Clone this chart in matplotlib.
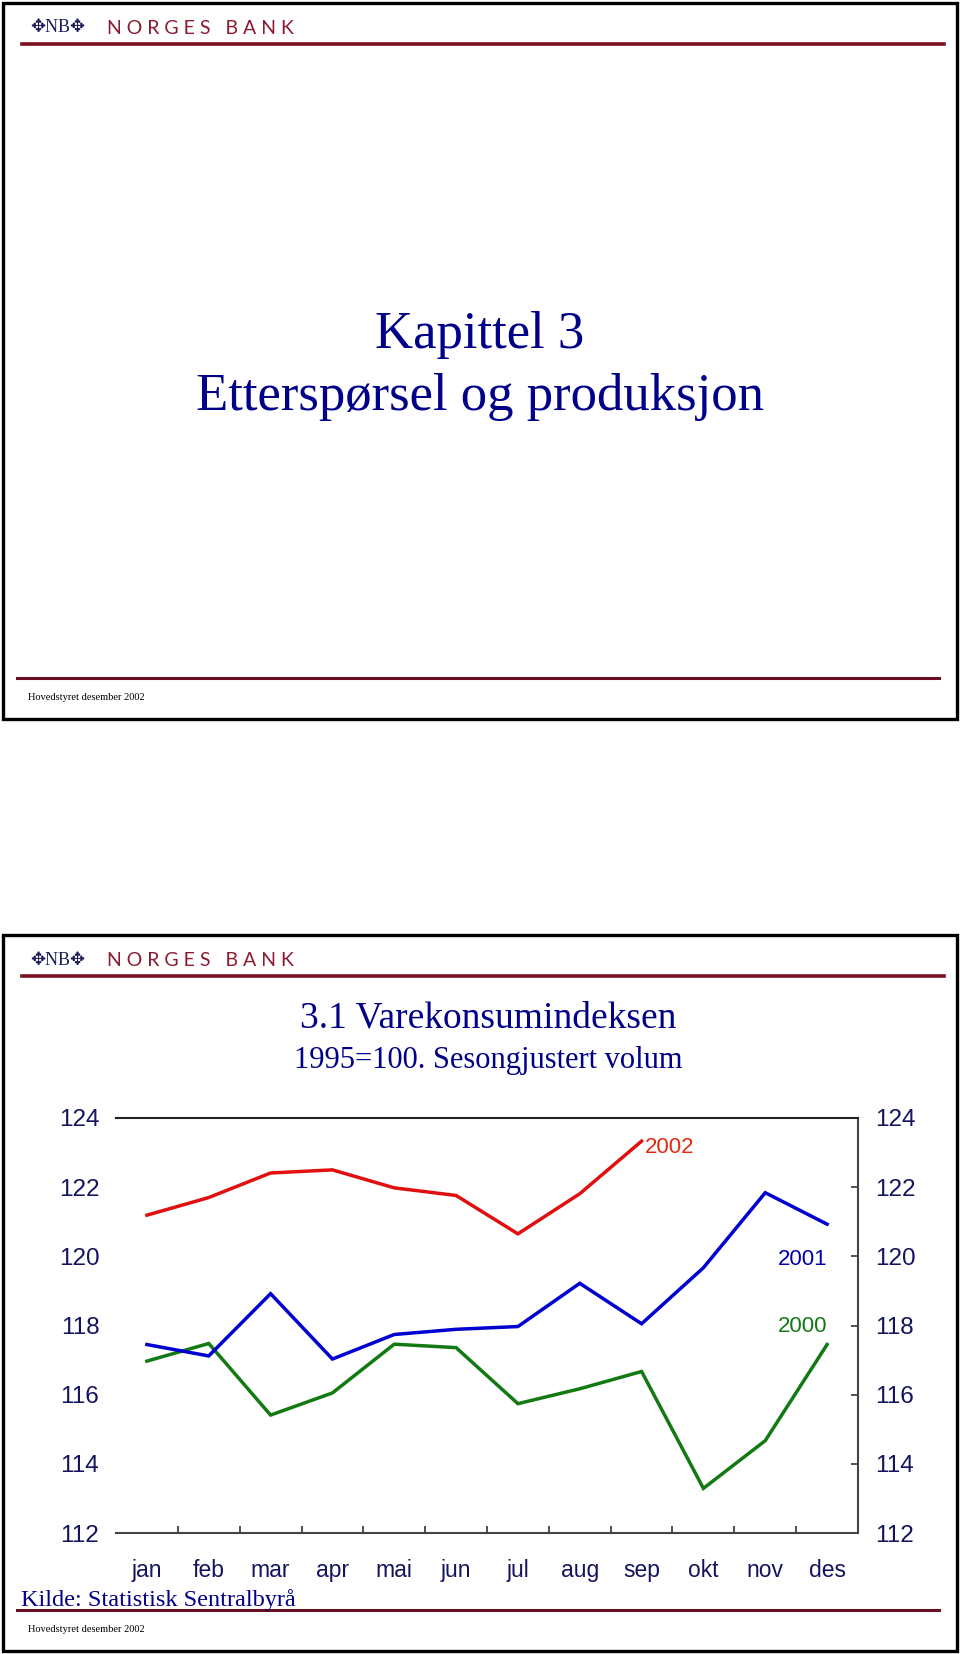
import matplotlib
matplotlib.use("Agg")
import matplotlib.pyplot as plt
from matplotlib.patches import Rectangle
from matplotlib.lines import Line2D
from matplotlib.ticker import FixedLocator

# --- data ---
months = ["jan", "feb", "mar", "apr", "mai", "jun",
          "jul", "aug", "sep", "okt", "nov", "des"]
v2000 = [116.97, 117.48, 115.41, 116.05, 117.46, 117.36,
         115.74, 116.17, 116.67, 113.29, 114.67, 117.45]
v2001 = [117.45, 117.12, 118.92, 117.03, 117.74, 117.89,
         117.97, 119.22, 118.05, 119.67, 121.84, 120.93]
v2002 = [121.19, 121.70, 122.41, 122.50, 121.98, 121.76,
         120.65, 121.81, 123.33]
yticks = [112, 114, 116, 118, 120, 122, 124]

W, H = 960, 1654
NAVY = "#000088"
DARKNAVY = "#14145e"
BANKRED = "#8a1a30"
SERIF = "Liberation Serif"
SANS = "Liberation Sans"

def fx(x): return x / W
def fy(y): return 1 - y / H

fig = plt.figure(figsize=(W / 100, H / 100), dpi=100)
fig.patch.set_facecolor("white")

def panel(top, bottom):
    # slide frame
    fig.add_artist(Rectangle((fx(3), fy(bottom)), fx(954), (bottom - top) / H,
                             transform=fig.transFigure, fill=False,
                             ec="black", lw=2.4))
    # logo + header rule
    fig.text(fx(30), fy(top + 25), "✥NB✥", family=[SERIF, "DejaVu Sans"],
             color="#1c1c5a", fontsize=13, va="center", ha="left")
    fig.text(fx(107), fy(top + 25), "N O R G E S   B A N K", family="Lato",
             color=BANKRED, fontsize=14, va="center", ha="left")
    fig.add_artist(Line2D([fx(22), fx(944)], [fy(top + 41)] * 2,
                          transform=fig.transFigure, color="#7a1020", lw=2.6))

def footer(line_y):
    fig.add_artist(Line2D([fx(17), fx(939)], [fy(line_y)] * 2,
                          transform=fig.transFigure, color="#6a1020", lw=2.2))
    fig.text(fx(28), fy(line_y + 19), "Hovedstyret desember 2002", family=SERIF,
             color="black", fontsize=7.5, va="center", ha="left")

# ---- top slide ----
panel(3, 719)
fig.text(fx(480), fy(348), "Kapittel 3", family=SERIF, color=NAVY,
         fontsize=38, ha="center", va="baseline")
fig.text(fx(480), fy(410), "Etterspørsel og produksjon", family=SERIF,
         color=NAVY, fontsize=38, ha="center", va="baseline")
footer(678)

# ---- bottom slide ----
panel(935, 1651)
fig.text(fx(488), fy(1027), "3.1 Varekonsumindeksen", family=SERIF,
         color=NAVY, fontsize=27, ha="center", va="baseline")
fig.text(fx(488), fy(1068), "1995=100. Sesongjustert volum", family=SERIF,
         color=NAVY, fontsize=22, ha="center", va="baseline")

ax = fig.add_axes([fx(116), fy(1533), (858 - 116) / W, (1533 - 1118) / H])
x = list(range(len(months)))
ax.plot(x, v2000, color="#137a13", lw=2.5, solid_joinstyle="miter")
ax.plot(x, v2001, color="#0000d0", lw=2.5, solid_joinstyle="miter")
ax.plot(x[:len(v2002)], v2002, color="#e01010", lw=2.5, solid_joinstyle="miter")

ax.text(8.05, 123.15, "2002", color="#e02a10", family=SANS, fontsize=16,
        ha="left", va="center")
ax.text(11.0, 119.92, "2001", color="#0000b0", family=SANS, fontsize=16,
        ha="right", va="center")
ax.text(11.0, 117.97, "2000", color="#137a13", family=SANS, fontsize=16,
        ha="right", va="center")

ax.set_xlim(-0.5, 11.5)
ax.set_ylim(112, 124)
ax.set_yticks(yticks)
ax.set_yticklabels([str(t) for t in yticks], family=SANS, fontsize=17.5,
                   color=DARKNAVY)
ax.tick_params(axis="y", which="both", left=False, right=True, labelleft=True,
               labelright=True, direction="in", length=5, width=1.2,
               color="#333333", pad=12)
ax.set_xticks(x)
ax.set_xticklabels(months, family=SANS, fontsize=16.5, color=DARKNAVY)
ax.xaxis.set_minor_locator(FixedLocator([i + 0.5 for i in range(11)]))
ax.tick_params(axis="x", which="major", length=0, pad=19)
ax.tick_params(axis="x", which="minor", direction="in", length=5, width=1.2,
               color="#333333")

ax.spines["left"].set_visible(False)
ax.spines["top"].set_color("#222222")
ax.spines["right"].set_color("#444444")
ax.spines["bottom"].set_color("#444444")
for s in ("top", "right", "bottom"):
    ax.spines[s].set_linewidth(1.5)

fig.text(fx(21), fy(1600), "Kilde: Statistisk Sentralbyrå", family=SERIF,
         color=NAVY, fontsize=17.5, ha="left", va="center")
footer(1610)

fig.savefig("out.png", dpi=100)
